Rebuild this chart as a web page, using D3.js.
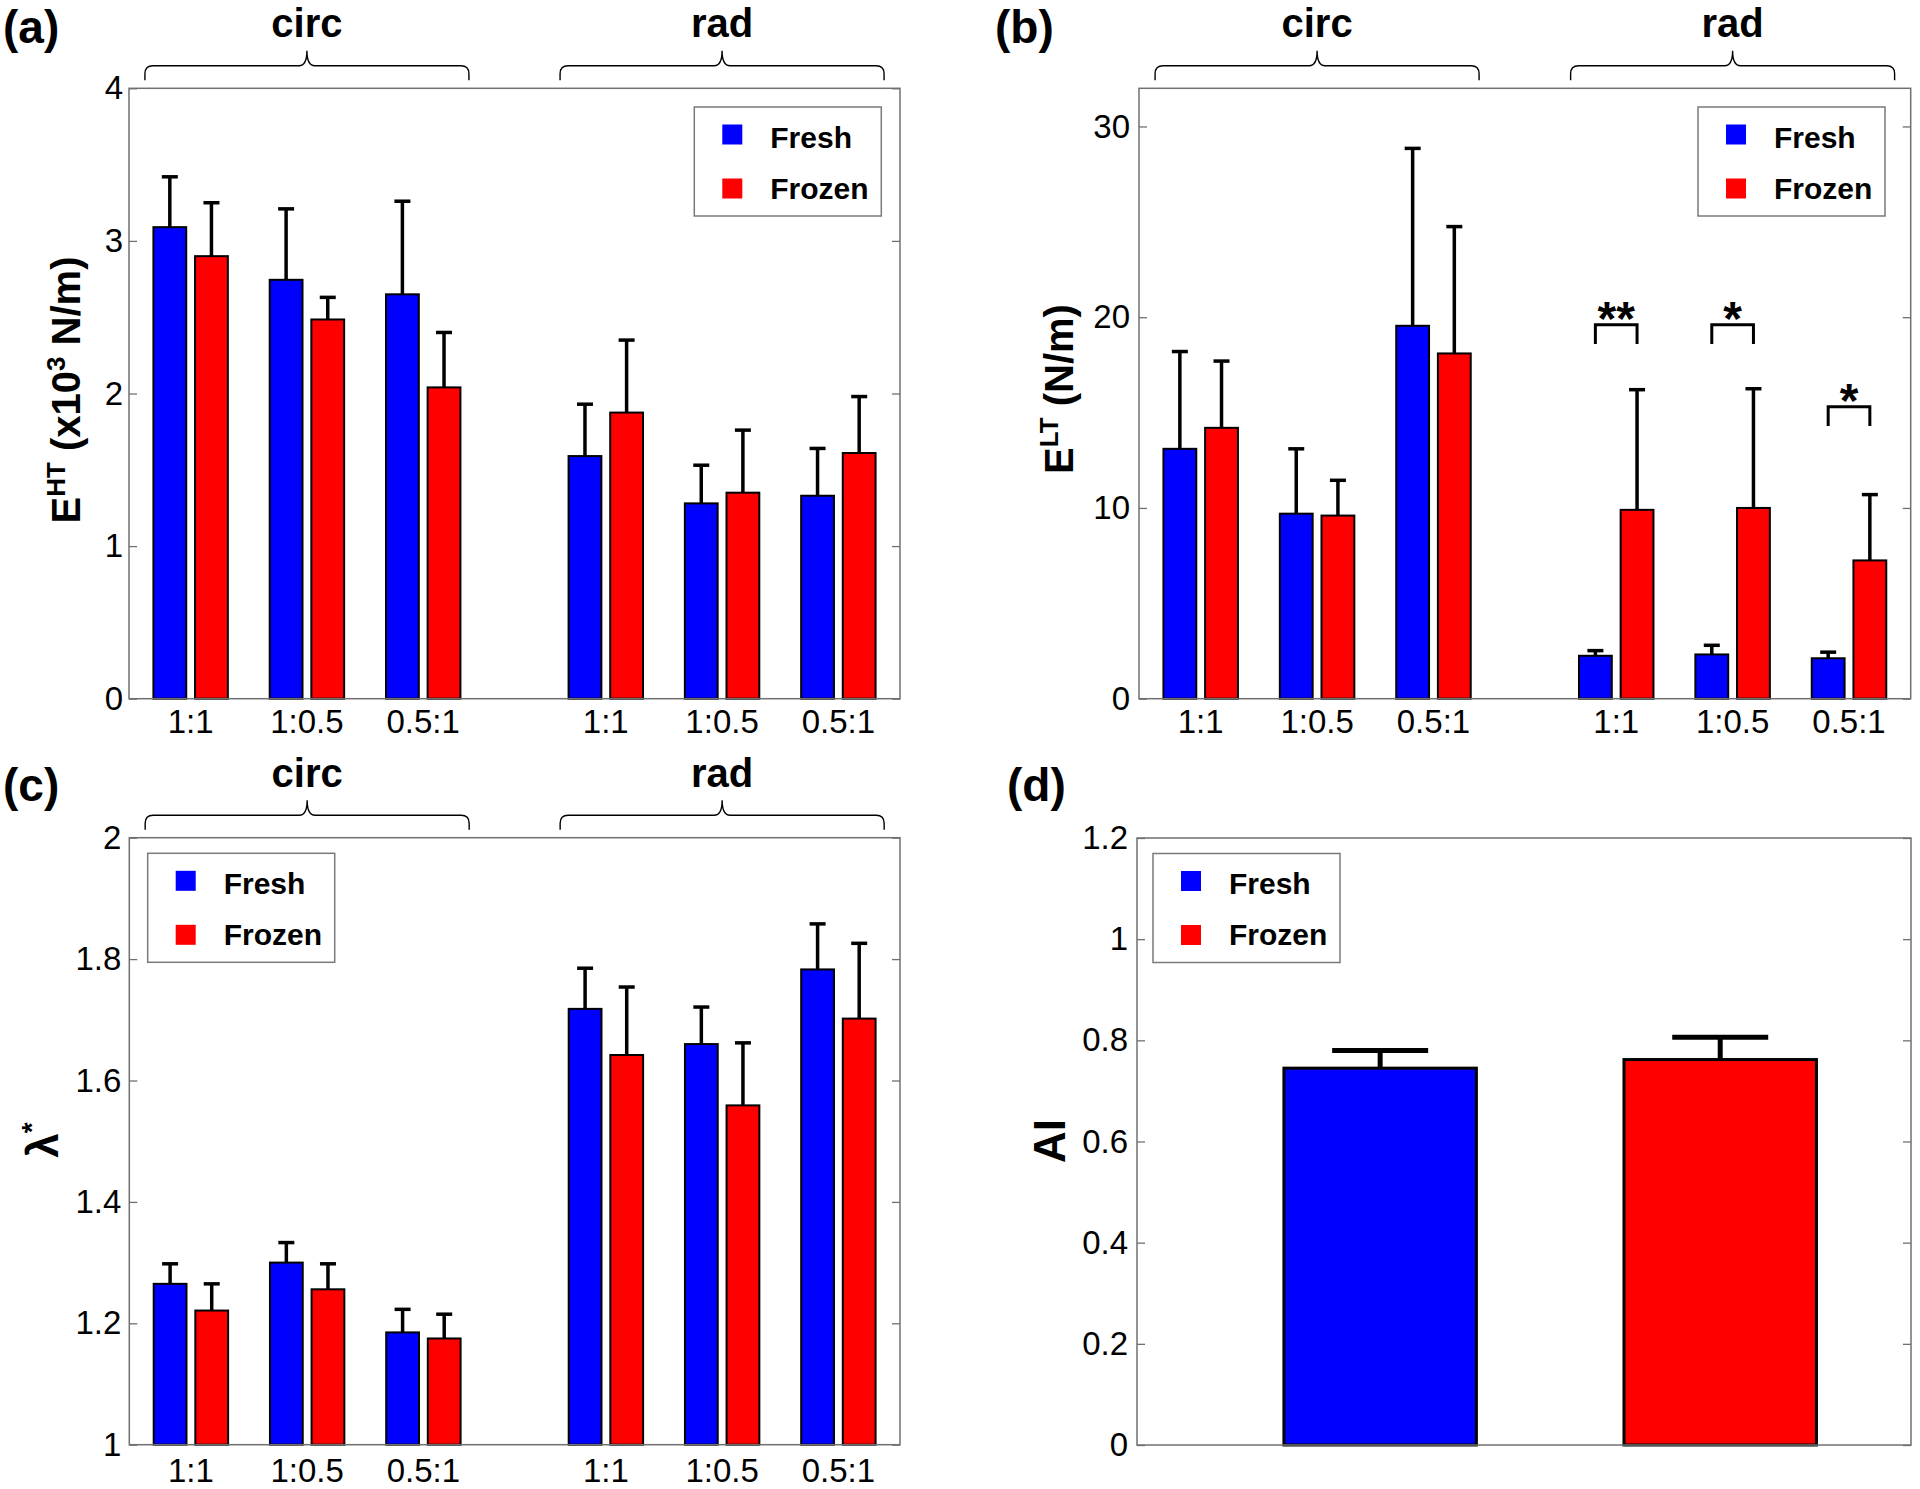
<!DOCTYPE html>
<html>
<head>
<meta charset="utf-8">
<script src="https://cdn.jsdelivr.net/npm/d3@7"></script>
<style>
  html, body { margin: 0; padding: 0; background: #fff; }
  svg { display: block; font-family: "Liberation Sans", Arial, Helvetica, sans-serif; }
</style>
</head>
<body>
<svg id="chart" width="1920" height="1489"></svg>
<script>
// ---------------- DATA ----------------
const ratios = ["1:1", "1:0.5", "0.5:1", "1:1", "1:0.5", "0.5:1"];
const orientations = ["circ", "rad"];
const seriesNames = ["Fresh", "Frozen"];
const seriesColors = ["#0000ff", "#ff0000"];

// (a) E^HT (x10^3 N/m)
const aFresh     = [3.09, 2.745, 2.65, 1.59, 1.28, 1.33];
const aFreshErr  = [0.33, 0.465, 0.61, 0.34, 0.25, 0.31];
const aFrozen    = [2.90, 2.485, 2.04, 1.875, 1.35, 1.61];
const aFrozenErr = [0.35, 0.145, 0.36, 0.475, 0.41, 0.37];
const aTicks = [0, 1, 2, 3, 4];

// (b) E^LT (N/m)
const bFresh     = [13.1, 9.7, 19.55, 2.25, 2.32, 2.12];
const bFreshErr  = [5.1, 3.4, 9.3, 0.27, 0.48, 0.32];
const bFrozen    = [14.2, 9.6, 18.1, 9.9, 10.0, 7.25];
const bFrozenErr = [3.5, 1.85, 6.65, 6.3, 6.25, 3.45];
const bTicks = [0, 10, 20, 30];
const bSigIndex  = [3, 4, 5];
const bSigLabels = ["**", "*", "*"];
const bSigLevels = [19.6, 19.6, 15.3];

// (c) lambda*
const cFresh     = [1.265, 1.30, 1.185, 1.718, 1.66, 1.783];
const cFreshErr  = [0.033, 0.033, 0.038, 0.067, 0.061, 0.075];
const cFrozen    = [1.221, 1.256, 1.175, 1.642, 1.559, 1.702];
const cFrozenErr = [0.044, 0.042, 0.040, 0.112, 0.103, 0.124];
const cTicks = [1, 1.2, 1.4, 1.6, 1.8, 2];
const cTickLabels = ["1", "1.2", "1.4", "1.6", "1.8", "2"];

// (d) AI
const dValues = [0.745, 0.762];
const dErrors = [0.035, 0.044];
const dTicks = [0, 0.2, 0.4, 0.6, 0.8, 1, 1.2];
const dTickLabels = ["0", "0.2", "0.4", "0.6", "0.8", "1", "1.2"];

// ---------------- DRAWING ----------------
const svg = d3.select("#chart");
svg.append("rect").attr("width", 1920).attr("height", 1489).attr("fill", "#fff");

const AXIS_COLOR = "#707070";
const FONT = "'Liberation Sans', Arial, Helvetica, sans-serif";
const TICK_FS = 33;
const GROUP_GAP = 0.57;  // extra spacing between circ and rad groups (x units)
const groupPos = ratios.map((r, i) => i + 1 + (i >= 3 ? GROUP_GAP : 0));

function drawBox(g, L, T, R, B, y, ticks, labels, pad) {
  const axL = d3.axisLeft(y).tickValues(ticks).tickSize(-8).tickPadding(pad)
    .tickFormat((d, i) => labels ? labels[i] : d3.format("")(d));
  const gl = g.append("g").attr("transform", `translate(${L},0)`).call(axL);
  gl.select(".domain").remove();
  gl.selectAll(".tick line").attr("stroke", AXIS_COLOR).attr("stroke-width", 1.3);
  gl.selectAll(".tick text").attr("font-size", TICK_FS).attr("fill", "#000")
    .attr("font-family", FONT);
  const axR = d3.axisRight(y).tickValues(ticks).tickSize(-8).tickFormat("");
  const gr = g.append("g").attr("transform", `translate(${R},0)`).call(axR);
  gr.select(".domain").remove();
  gr.selectAll(".tick line").attr("stroke", AXIS_COLOR).attr("stroke-width", 1.3);
  g.append("rect").attr("x", L).attr("y", T).attr("width", R - L).attr("height", B - T)
    .attr("fill", "none").attr("stroke", AXIS_COLOR).attr("stroke-width", 1.5);
}

function drawLegend(g, bx, by) {
  g.append("rect").attr("x", bx).attr("y", by).attr("width", 187).attr("height", 109)
    .attr("fill", "#fff").attr("stroke", "#7a7a7a").attr("stroke-width", 1.5);
  seriesNames.forEach((n, i) => {
    g.append("rect").attr("x", bx + 28).attr("y", by + 17.5 + i * 54)
      .attr("width", 20).attr("height", 20).attr("fill", seriesColors[i]);
    g.append("text").attr("x", bx + 76).attr("y", by + 40.5 + i * 51)
      .attr("font-size", 30).attr("font-weight", "bold").attr("font-family", FONT)
      .text(n);
  });
}

function drawBrace(g, xc, half, T, label) {
  const x0 = xc - half, x1 = xc + half;
  const yb = T - 8, yh = T - 22.5, yt = T - 37.5, r = 8;
  const p = `M${x0},${yb} L${x0},${yh + r} Q${x0},${yh} ${x0 + r},${yh} L${xc - 8},${yh}` +
            ` Q${xc},${yh} ${xc},${yt} Q${xc},${yh} ${xc + 8},${yh} L${x1 - r},${yh}` +
            ` Q${x1},${yh} ${x1},${yh + r} L${x1},${yb}`;
  g.append("path").attr("d", p).attr("fill", "none").attr("stroke", "#000").attr("stroke-width", 1.4);
  g.append("text").attr("x", xc).attr("y", T - 51).attr("text-anchor", "middle")
    .attr("font-size", 40).attr("font-weight", "bold").attr("font-family", FONT).text(label);
}

function panelLabel(txt, x, y) {
  svg.append("text").attr("x", x).attr("y", y).attr("font-size", 46).attr("font-weight", "bold")
    .attr("font-family", FONT).text(txt);
}

function groupedPanel(cfg) {
  const g = svg.append("g");
  const { L, T, R, B } = cfg;
  const x = d3.scaleLinear().domain([0.47, 7.1]).range([L, R]);
  const y = d3.scaleLinear().domain(cfg.yDomain).range([B, T]);
  const unit = x(1) - x(0);
  const off = 0.179 * unit, bw = 0.282 * unit;
  const series = [
    { vals: cfg.fresh, errs: cfg.freshErr, color: seriesColors[0], sign: -1 },
    { vals: cfg.frozen, errs: cfg.frozenErr, color: seriesColors[1], sign: 1 }
  ];
  const base = cfg.yDomain[0];
  series.forEach(s => {
    s.vals.forEach((v, i) => {
      const xc = x(groupPos[i]) + s.sign * off;
      const top = y(v + s.errs[i]);
      g.append("line").attr("x1", xc).attr("x2", xc).attr("y1", y(v)).attr("y2", top)
        .attr("stroke", "#000").attr("stroke-width", 3.5);
      g.append("line").attr("x1", xc - 8).attr("x2", xc + 8).attr("y1", top).attr("y2", top)
        .attr("stroke", "#000").attr("stroke-width", 3.5);
      g.append("rect").attr("x", xc - bw / 2).attr("y", y(v)).attr("width", bw)
        .attr("height", y(base) - y(v)).attr("fill", s.color)
        .attr("stroke", "#000").attr("stroke-width", 2);
    });
  });
  drawBox(g, L, T, R, B, y, cfg.ticks, cfg.tickLabels, cfg.pad);
  // x labels
  ratios.forEach((r, i) => {
    g.append("text").attr("x", x(groupPos[i])).attr("y", cfg.xLabelY).attr("text-anchor", "middle")
      .attr("font-size", TICK_FS).attr("font-family", FONT).text(r);
  });
  // braces
  const circC = x(d3.mean(groupPos.slice(0, 3)));
  const radC = x(d3.mean(groupPos.slice(3, 6)));
  drawBrace(svg, circC, 162, T, orientations[0]);
  drawBrace(svg, radC, 162, T, orientations[1]);
  drawLegend(g, cfg.legX, cfg.legY);
  return { x, y, off, g };
}

// ---- (a)
const pa = groupedPanel({ L: 129, T: 88.3, R: 900, B: 698.7, yDomain: [0, 4], ticks: aTicks,
  fresh: aFresh, freshErr: aFreshErr, frozen: aFrozen, frozenErr: aFrozenErr,
  xLabelY: 733, legX: 694.3, legY: 107, pad: 6 });
panelLabel("(a)", 3, 43);
{
  const t = svg.append("text").attr("transform", "translate(79.5,390) rotate(-90)")
    .attr("text-anchor", "middle").attr("font-size", 40).attr("font-weight", "bold").attr("font-family", FONT);
  t.append("tspan").text("E");
  t.append("tspan").attr("font-size", 26).attr("dy", -15).text("HT");
  t.append("tspan").attr("dy", 15).text(" (x10");
  t.append("tspan").attr("font-size", 26).attr("dy", -15).text("3");
  t.append("tspan").attr("dy", 15).text(" N/m)");
}

// ---- (b)
const pb = groupedPanel({ L: 1139, T: 88.3, R: 1910.7, B: 698.7, yDomain: [0, 32], ticks: bTicks,
  fresh: bFresh, freshErr: bFreshErr, frozen: bFrozen, frozenErr: bFrozenErr,
  xLabelY: 733, legX: 1698, legY: 107, pad: 9 });
panelLabel("(b)", 995, 43);
{
  const t = svg.append("text").attr("transform", "translate(1073,389) rotate(-90)")
    .attr("text-anchor", "middle").attr("font-size", 40).attr("font-weight", "bold").attr("font-family", FONT);
  t.append("tspan").text("E");
  t.append("tspan").attr("font-size", 26).attr("dy", -15).text("LT");
  t.append("tspan").attr("dy", 15).text(" (N/m)");
}
bSigIndex.forEach((gi, k) => {
  const x1 = pb.x(groupPos[gi]) - pb.off, x2 = pb.x(groupPos[gi]) + pb.off;
  const yTop = pb.y(bSigLevels[k]), yBot = pb.y(bSigLevels[k] - 1.0);
  svg.append("path").attr("d", `M${x1},${yBot} L${x1},${yTop} L${x2},${yTop} L${x2},${yBot}`)
    .attr("fill", "none").attr("stroke", "#000").attr("stroke-width", 3);
  svg.append("text").attr("x", (x1 + x2) / 2).attr("y", yTop + 10).attr("text-anchor", "middle")
    .attr("font-size", 48).attr("font-weight", "bold").attr("font-family", FONT).text(bSigLabels[k]);
});

// ---- (c)
const pc = groupedPanel({ L: 129.3, T: 837.7, R: 900, B: 1444.7, yDomain: [1, 2], ticks: cTicks,
  tickLabels: cTickLabels,
  fresh: cFresh, freshErr: cFreshErr, frozen: cFrozen, frozenErr: cFrozenErr,
  xLabelY: 1482, legX: 147.7, legY: 853.3, pad: 8 });
panelLabel("(c)", 3, 801);
{
  const t = svg.append("text").attr("transform", "translate(58,1140) rotate(-90)")
    .attr("text-anchor", "middle").attr("font-size", 44).attr("font-weight", "bold").attr("font-family", FONT);
  t.append("tspan").text("λ");
  t.append("tspan").attr("font-size", 28).attr("dy", -17).text("*");
}

// ---- (d)
{
  const L = 1137, T = 838, R = 1911, B = 1445;
  const g = svg.append("g");
  const x = d3.scaleLinear().domain([0.285, 2.561]).range([L, R]);
  const y = d3.scaleLinear().domain([0, 1.2]).range([B, T]);
  const unit = x(1) - x(0);
  const bw = 0.566 * unit;
  dValues.forEach((v, i) => {
    const xc = x(i + 1);
    const top = y(v + dErrors[i]);
    g.append("line").attr("x1", xc).attr("x2", xc).attr("y1", y(v)).attr("y2", top)
      .attr("stroke", "#000").attr("stroke-width", 5);
    g.append("line").attr("x1", xc - 48).attr("x2", xc + 48).attr("y1", top).attr("y2", top)
      .attr("stroke", "#000").attr("stroke-width", 5);
    g.append("rect").attr("x", xc - bw / 2).attr("y", y(v)).attr("width", bw)
      .attr("height", y(0) - y(v)).attr("fill", seriesColors[i])
      .attr("stroke", "#000").attr("stroke-width", 3);
  });
  drawBox(g, L, T, R, B, y, dTicks, dTickLabels, 9);
  drawLegend(g, 1153, 853.5);
  panelLabel("(d)", 1007, 801);
  svg.append("text").attr("transform", "translate(1065,1141) rotate(-90)")
    .attr("text-anchor", "middle").attr("font-size", 44).attr("font-weight", "bold")
    .attr("font-family", FONT).text("AI");
}
</script>
</body>
</html>
